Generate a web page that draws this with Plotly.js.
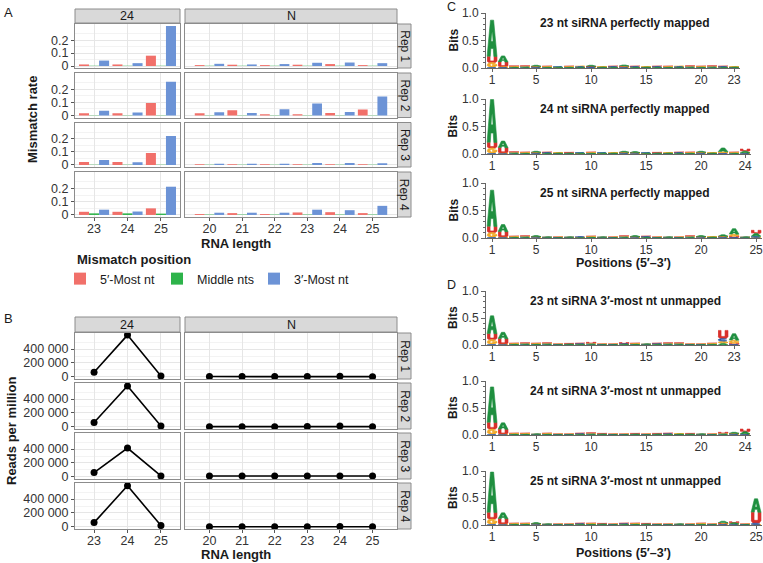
<!DOCTYPE html>
<html><head><meta charset="utf-8">
<script src="https://cdn.plot.ly/plotly-3.0.1.min.js"></script>
<style>html,body{margin:0;padding:0;background:#fff}#chart{width:763px;height:563px}</style>
</head><body><div id="chart"></div>
<script>
// ---------------- DATA ----------------
const cats24 = [23, 24, 25];
const catsN = [20, 21, 22, 23, 24, 25];
const reps = ['Rep 1', 'Rep 2', 'Rep 3', 'Rep 4'];
const seriesNames = ['5\u2032-Most nt', 'Middle nts', '3\u2032-Most nt'];

// Panel A: mismatch rate, 24 facet (per rep)
const five24  = [[0.012,0.012,0.080],[0.017,0.017,0.096],[0.022,0.022,0.092],[0.024,0.024,0.050]];
const mid24   = [[0.002,0.002,0.002],[0.002,0.002,0.002],[0.002,0.002,0.002],[0.012,0.012,0.010]];
const three24 = [[0.042,0.022,0.310],[0.036,0.022,0.258],[0.039,0.021,0.222],[0.040,0.026,0.214]];
// Panel A: mismatch rate, N facet (per rep)
const fiveN  = [[0.007,0.010,0.007,0.010,0.015,0.007],[0.017,0.041,0.010,0.010,0.019,0.046],[0.005,0.005,0.005,0.005,0.006,0.005],[0.007,0.014,0.007,0.019,0.021,0.014]];
const midN   = [[0.002,0.002,0.002,0.002,0.002,0.002],[0.002,0.002,0.002,0.002,0.002,0.002],[0.002,0.002,0.002,0.002,0.002,0.002],[0.003,0.003,0.003,0.003,0.003,0.003]];
const threeN = [[0.017,0.012,0.015,0.025,0.027,0.022],[0.024,0.019,0.048,0.092,0.027,0.145],[0.010,0.010,0.009,0.015,0.015,0.014],[0.017,0.017,0.017,0.040,0.036,0.069]];

// Panel B: reads per million
const reads24 = [[67000,600000,14000],[63000,586000,12000],[62000,414000,14000],[62000,590000,20000]];
const readsN  = [[5000,5000,5000,5000,8000,4000],[4000,4000,4000,5000,12000,4000],[14000,14000,14000,14000,14000,14000],[3000,3000,3000,3000,7000,2000]];

// Panels C/D: sequence logos (bits per letter per position)
const logoLengths = [23, 24, 25, 23, 24, 25];
const logoTitles = ['23 nt siRNA perfectly mapped','24 nt siRNA perfectly mapped','25 nt siRNA perfectly mapped',
  '23 nt siRNA 3\u2032-most nt unmapped','24 nt siRNA 3\u2032-most nt unmapped','25 nt siRNA 3\u2032-most nt unmapped'];
const logoA = [
 [0.66,0.11,0.01,0.01,0.02,0.01,0.01,0.01,0.01,0.02,0.01,0.01,0.02,0.01,0.01,0.01,0.01,0.01,0.01,0.01,0.01,0.01,0.01],
 [0.78,0.12,0.01,0.01,0.02,0.01,0.01,0.01,0.01,0.01,0.01,0.01,0.02,0.02,0.01,0.01,0.01,0.01,0.01,0.02,0.01,0.07,0.01,0.03],
 [0.66,0.13,0.01,0.01,0.02,0.01,0.005,0.01,0.005,0.01,0.01,0.005,0.01,0.02,0.01,0.005,0.01,0.005,0.01,0.02,0.01,0.03,0.10,0.01,0.05],
 [0.33,0.12,0.01,0.01,0.01,0.01,0.005,0.01,0.01,0.01,0.005,0.005,0.01,0.01,0.01,0.01,0.01,0.01,0.005,0.005,0.01,0.03,0.12],
 [0.66,0.12,0.01,0.01,0.01,0.01,0.005,0.005,0.01,0.01,0.01,0.005,0.005,0.01,0.005,0.01,0.01,0.01,0.01,0.01,0.005,0.01,0.02,0.04],
 [0.75,0.11,0.01,0.01,0.02,0.01,0.005,0.005,0.01,0.01,0.01,0.005,0.01,0.01,0.01,0.005,0.005,0.01,0.005,0.01,0.005,0.03,0.02,0.005,0.25]
];
const logoC = [
 [0.01,0.01,0.005,0.01,0.01,0.005,0.01,0.005,0.01,0.01,0.005,0.01,0.01,0.01,0.005,0.01,0.005,0.01,0.01,0.005,0.01,0.01,0.005],
 [0.01,0.005,0.01,0.005,0.01,0.01,0.005,0.005,0.01,0.005,0.01,0.005,0.01,0.005,0.01,0.005,0.005,0.01,0.005,0.01,0.005,0.01,0.005,0.01],
 [0.01,0.005,0.005,0.01,0.005,0.005,0.005,0.005,0.01,0.005,0.005,0.005,0.01,0.005,0.01,0.005,0.005,0.005,0.01,0.005,0.005,0.01,0.01,0.005,0.02],
 [0.01,0.005,0.005,0.01,0.005,0.01,0.005,0.005,0.01,0.01,0.005,0.005,0.01,0.005,0.005,0.01,0.01,0.01,0.005,0.005,0.005,0.05,0.01],
 [0.01,0.005,0.005,0.005,0.005,0.005,0.005,0.005,0.01,0.01,0.005,0.005,0.005,0.005,0.005,0.005,0.01,0.005,0.005,0.005,0.005,0.01,0.01,0.01],
 [0.01,0.005,0.005,0.005,0.005,0.005,0.005,0.005,0.01,0.005,0.005,0.005,0.01,0.005,0.005,0.005,0.005,0.005,0.005,0.005,0.005,0.01,0.01,0.005,0.03]
];
const logoG = [
 [0.09,0.01,0.01,0.01,0.01,0.01,0.005,0.01,0.01,0.005,0.01,0.005,0.01,0.005,0.01,0.005,0.01,0.01,0.01,0.01,0.01,0.005,0.01],
 [0.10,0.01,0.01,0.01,0.01,0.005,0.01,0.005,0.005,0.01,0.005,0.01,0.01,0.01,0.005,0.005,0.01,0.005,0.01,0.01,0.01,0.02,0.01,0.01],
 [0.09,0.01,0.01,0.01,0.01,0.005,0.005,0.005,0.005,0.01,0.005,0.005,0.01,0.01,0.005,0.005,0.005,0.005,0.01,0.01,0.01,0.01,0.04,0.005,0.01],
 [0.09,0.01,0.01,0.01,0.01,0.01,0.005,0.005,0.005,0.01,0.005,0.005,0.005,0.01,0.005,0.005,0.01,0.01,0.005,0.005,0.01,0.04,0.06],
 [0.10,0.01,0.01,0.01,0.005,0.01,0.005,0.005,0.005,0.01,0.005,0.005,0.005,0.005,0.005,0.005,0.005,0.01,0.005,0.005,0.005,0.01,0.01,0.01],
 [0.10,0.01,0.01,0.01,0.01,0.005,0.005,0.005,0.005,0.01,0.005,0.005,0.005,0.01,0.005,0.005,0.005,0.005,0.005,0.01,0.005,0.01,0.01,0.005,0.005]
];
const logoU = [
 [0.11,0.09,0.015,0.01,0.01,0.01,0.005,0.01,0.005,0.015,0.005,0.01,0.015,0.01,0.005,0.01,0.01,0.005,0.01,0.01,0.01,0.01,0.005],
 [0.10,0.10,0.01,0.01,0.01,0.01,0.005,0.01,0.005,0.01,0.005,0.005,0.01,0.01,0.005,0.01,0.005,0.01,0.01,0.01,0.005,0.01,0.01,0.04],
 [0.11,0.10,0.01,0.01,0.01,0.005,0.005,0.005,0.005,0.01,0.005,0.005,0.01,0.01,0.01,0.005,0.005,0.005,0.01,0.01,0.005,0.01,0.02,0.005,0.06],
 [0.11,0.10,0.01,0.01,0.01,0.01,0.005,0.01,0.01,0.02,0.005,0.005,0.02,0.01,0.005,0.01,0.01,0.01,0.005,0.005,0.01,0.15,0.02],
 [0.12,0.09,0.01,0.01,0.005,0.01,0.005,0.005,0.01,0.01,0.01,0.005,0.005,0.01,0.005,0.01,0.01,0.005,0.01,0.005,0.005,0.02,0.01,0.05],
 [0.12,0.10,0.01,0.01,0.01,0.005,0.005,0.005,0.01,0.01,0.01,0.005,0.01,0.01,0.01,0.005,0.005,0.005,0.005,0.01,0.005,0.02,0.02,0.005,0.20]
];

// ---------------- STYLE / GEOMETRY ----------------
const W = 763, H = 563;
const FONT = 'Liberation Sans, Arial, sans-serif';
const barColors = ['#F1706A', '#2DB34A', '#6C93D6'];
const letterColors = {A:'#1f8f3f', C:'#2a5aa8', G:'#f0a92b', U:'#d9302b'};
const colX = [[75,180],[185,397]];
const colRange = [[22.43,25.57],[19.25,25.75]];
const rowsA = [[24,68],[73,117.5],[122.5,167],[172,217]];
const rowsB = [[333,379],[383,429],[433,479],[483,529]];
const stripA = [9,23], stripB = [317,332];
const stripRight = [397.5,411];
const logoRowsY = [[13,68],[99,154],[183,238],[291,345],[381,435],[471,525]];
const logoLeft = 486, logoPos = 11.0;

const traces = [];
const layout = {
  width: W, height: H, margin: {l:0,r:0,t:0,b:0},
  paper_bgcolor: '#fff', plot_bgcolor: '#fff',
  font: {family: FONT, size: 12, color: '#1a1a1a'},
  barmode: 'group', bargap: 0.1, bargroupgap: 0,
  separators: '. ',
  showlegend: true,
  legend: {orientation:'h', x: 60/W, y: 1-264/H, xanchor:'left', yanchor:'top',
    font:{size:12.5, family:FONT, color:'#1a1a1a'}, entrywidth: 52, itemwidth: 30,
    bgcolor:'rgba(0,0,0,0)', traceorder:'normal'},
  shapes: [], annotations: []
};
let axN = 0;
function addAxes(xb, yb, xo, yo){
  axN++;
  const s = axN === 1 ? '' : String(axN);
  layout['xaxis'+s] = Object.assign({domain:[xb[0]/W, xb[1]/W], anchor:'y'+s}, xo);
  layout['yaxis'+s] = Object.assign({domain:[1-yb[1]/H, 1-yb[0]/H], anchor:'x'+s}, yo);
  return {x:'x'+s, y:'y'+s};
}
function ann(text, x, y, o){ layout.annotations.push(Object.assign({text, x:x/W, y:1-y/H, xref:'paper', yref:'paper', showarrow:false, xanchor:'center', yanchor:'middle'}, o||{})); }
function rect(x0,y0,x1,y1,fill,line){ layout.shapes.push({type:'rect', xref:'paper', yref:'paper', x0:x0/W, x1:x1/W, y0:1-y1/H, y1:1-y0/H, fillcolor:fill, line:{color:line||fill, width:1}, layer:'below'}); }

const gridMain = '#e6e6e6', gridMinor = '#f3f3f3', border = '#8c8c8c';
function facetX(c, bottom){
  return {range: colRange[c], tickvals: c===0?cats24:catsN, ticktext:(c===0?cats24:catsN).map(String),
    showgrid:true, gridcolor:gridMain, zeroline:false, showline:true, mirror:true, linecolor:border, linewidth:1,
    ticks: bottom?'outside':'', ticklen:3, tickcolor:'#555', showticklabels: bottom, ticklabelstandoff:-3,
    tickfont:{size:12.5, color:'#333', family:FONT}, fixedrange:true};
}
function facetY(c, range, tv, tt, minorv){
  return {range, tickvals:tv, ticktext:tt, showgrid:true, gridcolor:gridMain, zeroline:false,
    showline:true, mirror:true, linecolor:border, linewidth:1,
    ticks: c===0?'outside':'', ticklen:3, tickcolor:'#555', showticklabels: c===0,
    tickfont:{size:12.5, color:'#333', family:FONT},
    minor:{tickvals:minorv, showgrid:true, gridcolor:gridMinor, ticks:''}, fixedrange:true};
}

// ---------------- PANEL A ----------------
const yRangeA = [-0.0155, 0.3255];
for (let r = 0; r < 4; r++){
  for (let c = 0; c < 2; c++){
    const a = addAxes(colX[c], rowsA[r], facetX(c, r===3),
      facetY(c, yRangeA, [0,0.1,0.2], ['0','0.1','0.2'], [0.05,0.15,0.25]));
    const xs = c===0?cats24:catsN;
    const sets = c===0 ? [five24[r], mid24[r], three24[r]] : [fiveN[r], midN[r], threeN[r]];
    sets.forEach((vals, k) => {
      traces.push({type:'bar', x:xs, y:vals, xaxis:a.x, yaxis:a.y, name:seriesNames[k],
        legendgroup:'s'+k, showlegend:(r===0&&c===0), marker:{color:barColors[k], line:{width:0}},
        hoverinfo:'skip'});
    });
  }
}
// ---------------- PANEL B ----------------
const yRangeB = [-30000, 630000];
for (let r = 0; r < 4; r++){
  for (let c = 0; c < 2; c++){
    const a = addAxes(colX[c], rowsB[r], facetX(c, r===3),
      facetY(c, yRangeB, [0,200000,400000], ['0','200 000','400 000'], [100000,300000,500000]));
    traces.push({type:'scatter', mode:'lines+markers', x:c===0?cats24:catsN, y:c===0?reads24[r]:readsN[r],
      xaxis:a.x, yaxis:a.y, line:{color:'#000', width:1.6}, marker:{color:'#000', size:7},
      showlegend:false, hoverinfo:'skip'});
  }
}

// strips
function strips(sy, rows){
  rect(colX[0][0], sy[0], colX[0][1], sy[1], '#d9d9d9', border);
  rect(colX[1][0], sy[0], colX[1][1], sy[1], '#d9d9d9', border);
  ann('24', (colX[0][0]+colX[0][1])/2, (sy[0]+sy[1])/2+0.5, {font:{size:12.5, color:'#1a1a1a'}});
  ann('N', (colX[1][0]+colX[1][1])/2, (sy[0]+sy[1])/2+0.5, {font:{size:12.5, color:'#1a1a1a'}});
  rows.forEach((rw, i) => {
    rect(stripRight[0], rw[0], stripRight[1], rw[1], '#d9d9d9', border);
    ann(reps[i], (stripRight[0]+stripRight[1])/2+0.5, (rw[0]+rw[1])/2, {textangle:90, font:{size:12, color:'#1a1a1a'}});
  });
}
strips(stripA, rowsA);
strips(stripB, rowsB);

ann('A', 8, 12, {font:{size:13}});
ann('B', 8, 318, {font:{size:13}});
ann('<b>Mismatch rate</b>', 33, 120, {textangle:-90, font:{size:13}});
ann('<b>RNA length</b>', 236, 243, {font:{size:13}});
ann('<b>Reads per million</b>', 11, 431, {textangle:-90, font:{size:13}});
ann('<b>RNA length</b>', 236, 554, {font:{size:13}});
ann('<b>Mismatch position</b>', 75, 259, {xanchor:'left', font:{size:13}});

// ---------------- LOGOS (C, D) ----------------
function arc(cx, cy, rx, ry, a0, a1, n){
  const pts = [];
  for (let i = 0; i <= n; i++){ const t = (a0 + (a1-a0)*i/n) * Math.PI/180; pts.push([cx + rx*Math.cos(t), cy + ry*Math.sin(t)]); }
  return pts;
}
const glyphs = {
  A: [[[0,0],[0.34,1],[0.66,1],[1,0],[0.68,0],[0.62,0.22],[0.38,0.22],[0.32,0]]],
  U: [[[0,1],[0.3,1],[0.3,0.34],[0.38,0.26],[0.62,0.26],[0.7,0.34],[0.7,1],[1,1],[1,0.22],[0.82,0],[0.18,0],[0,0.22]]],
  C: [arc(0.5,0.5,0.5,0.5,40,320,24).concat(arc(0.5,0.5,0.22,0.24,320,40,24))],
  G: [arc(0.5,0.5,0.5,0.5,40,360,24).concat(arc(0.5,0.5,0.22,0.24,360,40,24)),
      [[0.52,0.4],[1,0.4],[1,0.58],[0.52,0.58]]]
};
const holeA = [[0.43,0.42],[0.57,0.42],[0.5,0.68]];
const logoData = {A:logoA, C:logoC, G:logoG, U:logoU};

for (let p = 0; p < 6; p++){
  const L = logoLengths[p];
  const xr = [0.45, L + 0.55];
  const xb = [logoLeft, logoLeft + (xr[1]-xr[0])*logoPos];
  const ticks = [1,5,10,15,20,L];
  const a = addAxes(xb, logoRowsY[p],
    {range:xr, tickvals:ticks, ticktext:ticks.map(String), showgrid:false, zeroline:false, showline:true,
     linecolor:'#666', linewidth:1, ticks:'outside', ticklen:3, tickcolor:'#666', ticklabeloverflow:'allow',
     ticklabelstandoff:-2, tickfont:{size:12, color:'#333', family:FONT}, fixedrange:true},
    {range:[0,1], tickvals:[0,0.5,1], ticktext:['0.0','0.5','1.0'], showgrid:false, zeroline:false, showline:true,
     linecolor:'#666', linewidth:1, ticks:'outside', ticklen:4, tickcolor:'#666',
     tickfont:{size:12, color:'#333', family:FONT},
     minor:{dtick:0.1, ticks:'outside', ticklen:2, tickcolor:'#666'}, fixedrange:true});
  const polys = {A:{x:[],y:[]}, C:{x:[],y:[]}, G:{x:[],y:[]}, U:{x:[],y:[]}};
  const holes = {x:[], y:[]};
  for (let i = 0; i < L; i++){
    const pos = i + 1;
    const stack = ['A','C','G','U'].map(k => ({k, h: logoData[k][p][i]})).filter(o => o.h > 0).sort((u,v) => u.h - v.h);
    let base = 0;
    stack.forEach(o => {
      glyphs[o.k].forEach(poly => {
        poly.forEach(pt => { polys[o.k].x.push(pos - 0.45 + pt[0]*0.9); polys[o.k].y.push(base + pt[1]*o.h); });
        polys[o.k].x.push(null); polys[o.k].y.push(null);
      });
      if (o.k === 'A' && o.h > 0.08){
        holeA.forEach(pt => { holes.x.push(pos - 0.45 + pt[0]*0.9); holes.y.push(base + pt[1]*o.h); });
        holes.x.push(null); holes.y.push(null);
      }
      base += o.h;
    });
  }
  ['U','G','C','A'].forEach(k => {
    traces.push({type:'scatter', mode:'lines', x:polys[k].x, y:polys[k].y, xaxis:a.x, yaxis:a.y,
      fill:'toself', fillcolor:letterColors[k], line:{width:0.6, color:letterColors[k]}, showlegend:false, hoverinfo:'skip'});
  });
  traces.push({type:'scatter', mode:'lines', x:holes.x, y:holes.y, xaxis:a.x, yaxis:a.y,
    fill:'toself', fillcolor:'#fff', line:{width:0, color:'#fff'}, showlegend:false, hoverinfo:'skip'});
  const yb = logoRowsY[p];
  ann('<b>' + logoTitles[p] + '</b>', 625, yb[0] + 10, {font:{size:12, color:'#1a1a1a'}});
  ann('<b>Bits</b>', 453, (yb[0]+yb[1])/2, {textangle:-90, font:{size:12}});
}
ann('<b>Positions (5\u2032\u20133\u2032)</b>', 623, 263, {font:{size:12.5}});
ann('<b>Positions (5\u2032\u20133\u2032)</b>', 623, 553, {font:{size:12.5}});
ann('C', 451, 7, {font:{size:12.5}});
ann('D', 451, 285, {font:{size:12.5}});

Plotly.newPlot('chart', traces, layout, {displayModeBar:false, staticPlot:true});
</script></body></html>
